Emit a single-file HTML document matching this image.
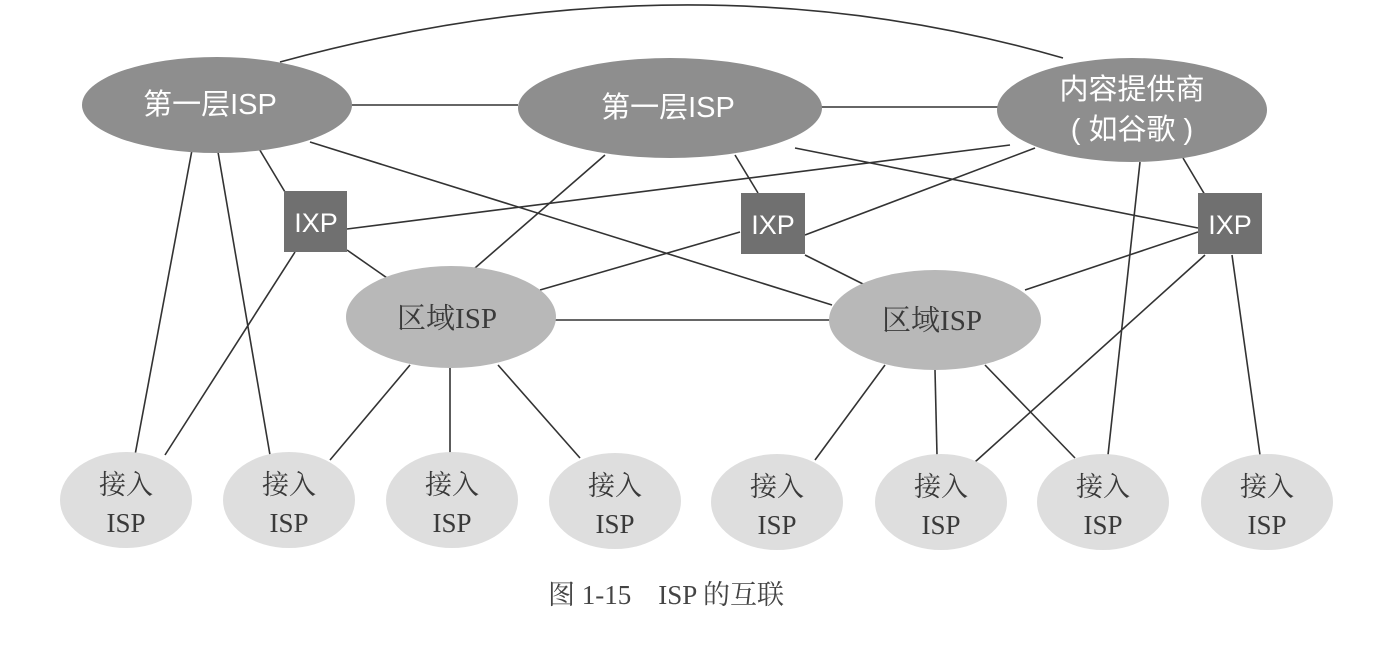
<!DOCTYPE html>
<html><head><meta charset="utf-8"><style>
html,body{margin:0;padding:0;background:#fff;}
svg{display:block}
.w{fill:#fff;font-family:"Liberation Sans","Noto Sans CJK SC",sans-serif;font-size:29px;text-anchor:middle}
.d{fill:#3a3a3a;font-family:"Liberation Serif","Noto Serif CJK SC",serif;font-size:27px;text-anchor:middle}
</style></head><body>
<svg width="1390" height="654" viewBox="0 0 1390 654" xmlns="http://www.w3.org/2000/svg">
<g stroke="#333" stroke-width="1.6" fill="none">
<path d="M280 62 Q690 -50 1063 58"/>
<line x1="352" y1="105" x2="518" y2="105"/>
<line x1="820" y1="107" x2="998" y2="107"/>
<line x1="192" y1="150" x2="135" y2="455"/>
<line x1="218" y1="152" x2="270" y2="455"/>
<line x1="255" y1="142" x2="285" y2="192"/>
<line x1="310" y1="142" x2="832" y2="305"/>
<line x1="295" y1="252" x2="165" y2="455"/>
<line x1="347" y1="250" x2="390" y2="280"/>
<line x1="347" y1="229" x2="1010" y2="145"/>
<line x1="605" y1="155" x2="475" y2="268"/>
<line x1="735" y1="155" x2="758" y2="193"/>
<line x1="795" y1="148" x2="1198" y2="228"/>
<line x1="1035" y1="148" x2="805" y2="235"/>
<line x1="740" y1="232" x2="540" y2="290"/>
<line x1="805" y1="255" x2="865" y2="285"/>
<line x1="1183" y1="158" x2="1205" y2="195"/>
<line x1="1140" y1="162" x2="1108" y2="455"/>
<line x1="1198" y1="232" x2="1025" y2="290"/>
<line x1="1205" y1="255" x2="975" y2="462"/>
<line x1="1232" y1="255" x2="1260" y2="455"/>
<line x1="555" y1="320" x2="832" y2="320"/>
<line x1="410" y1="365" x2="330" y2="460"/>
<line x1="450" y1="368" x2="450" y2="455"/>
<line x1="498" y1="365" x2="580" y2="458"/>
<line x1="885" y1="365" x2="815" y2="460"/>
<line x1="935" y1="370" x2="937" y2="455"/>
<line x1="985" y1="365" x2="1075" y2="458"/>
</g>
<ellipse cx="217" cy="105" rx="135" ry="48" fill="#8e8e8e"/>
<ellipse cx="670" cy="108" rx="152" ry="50" fill="#8e8e8e"/>
<ellipse cx="1132" cy="110" rx="135" ry="52" fill="#8e8e8e"/>
<text class="w" x="210" y="114">第一层ISP</text>
<text class="w" x="668" y="117">第一层ISP</text>
<text class="w" x="1132" y="99">内容提供商</text>
<text class="w" x="1132" y="139">( 如谷歌 )</text>
<rect x="284" y="191" width="63" height="61" fill="#707070"/>
<rect x="741" y="193" width="64" height="61" fill="#707070"/>
<rect x="1198" y="193" width="64" height="61" fill="#707070"/>
<text class="w" x="316" y="232" style="font-size:27px">IXP</text>
<text class="w" x="773" y="234" style="font-size:27px">IXP</text>
<text class="w" x="1230" y="234" style="font-size:27px">IXP</text>
<ellipse cx="451" cy="317" rx="105" ry="51" fill="#b8b8b8"/>
<ellipse cx="935" cy="320" rx="106" ry="50" fill="#b8b8b8"/>
<text class="d" x="447" y="328" style="font-size:29px">区域ISP</text>
<text class="d" x="932" y="330" style="font-size:29px">区域ISP</text>
<g fill="#dedede">
<ellipse cx="126" cy="500" rx="66" ry="48"/>
<ellipse cx="289" cy="500" rx="66" ry="48"/>
<ellipse cx="452" cy="500" rx="66" ry="48"/>
<ellipse cx="615" cy="501" rx="66" ry="48"/>
<ellipse cx="777" cy="502" rx="66" ry="48"/>
<ellipse cx="941" cy="502" rx="66" ry="48"/>
<ellipse cx="1103" cy="502" rx="66" ry="48"/>
<ellipse cx="1267" cy="502" rx="66" ry="48"/>
</g>
<text class="d" x="126" y="494">接入</text><text class="d" x="126" y="532">ISP</text>
<text class="d" x="289" y="494">接入</text><text class="d" x="289" y="532">ISP</text>
<text class="d" x="452" y="494">接入</text><text class="d" x="452" y="532">ISP</text>
<text class="d" x="615" y="495">接入</text><text class="d" x="615" y="533">ISP</text>
<text class="d" x="777" y="496">接入</text><text class="d" x="777" y="534">ISP</text>
<text class="d" x="941" y="496">接入</text><text class="d" x="941" y="534">ISP</text>
<text class="d" x="1103" y="496">接入</text><text class="d" x="1103" y="534">ISP</text>
<text class="d" x="1267" y="496">接入</text><text class="d" x="1267" y="534">ISP</text>
<text x="548" y="604" style="font-family:'Liberation Serif','Noto Serif CJK SC',serif;font-size:27px;fill:#444" xml:space="preserve">图 1-15    ISP 的互联</text>
</svg>
</body></html>
